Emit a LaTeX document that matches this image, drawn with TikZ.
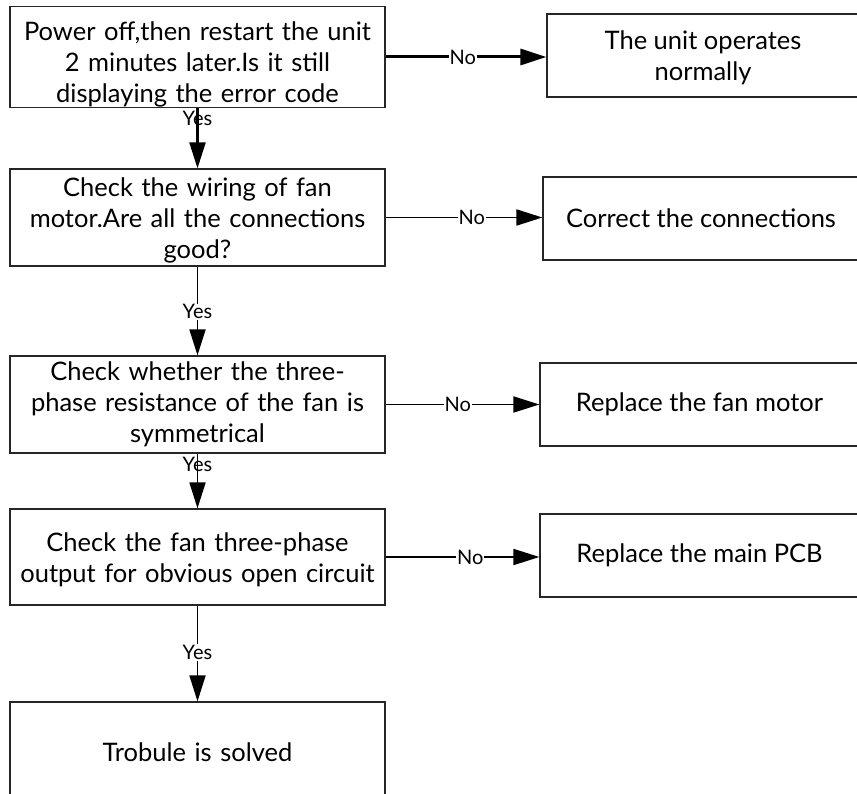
\documentclass[tikz,border=0pt]{standalone}
\usepackage{fontspec}
\setmainfont{Lato}
\usetikzlibrary{arrows.meta}
\begin{document}
\begin{tikzpicture}[x=1pt,y=-1pt,
  box/.style={draw=black!85,line width=1.2pt,rectangle,align=center,inner sep=0pt,
    font=\fontsize{25.5}{31}\selectfont},
  lbox/.style={box,minimum width=375pt,minimum height=97pt,text width=370pt},
  rbox/.style={box,minimum height=83pt},
  arr/.style={line width=1.8pt,-{Triangle[length=26pt,width=16pt]}},
  thickarr/.style={line width=3pt,-{Triangle[length=26pt,width=16pt]}},
  lab/.style={font=\fontsize{20}{22}\selectfont,inner sep=1pt},
  labw/.style={lab,fill=white}]
\useasboundingbox (0,0) rectangle (857,794);
\fill[white] (0,0) rectangle (857,794);
% left column
\node[lbox,minimum height=98pt] (b1) at (197.5,57) {\rule{0pt}{34pt}Power off,then restart the unit\\2 minutes later.Is it still\\displaying the error code};
\node[lbox] (b2) at (197.5,217.5) {\rule{0pt}{24pt}Check the wiring of fan\\motor.Are all the connections\\good?};
\node[lbox] (b3) at (197.5,404.5) {Check whether the three-\\phase resistance of the fan is\\symmetrical};
\node[lbox,minimum height=96pt] (b4) at (197.5,557) {\rule{0pt}{24pt}Check the fan three-phase\\output for obvious open circuit};
\node[lbox,minimum height=100pt] (b5) at (197.5,752) {Trobule is solved};
% right column
\node[rbox,minimum width=312pt] (r1) at (703,55.5) {\rule{0pt}{24pt}The unit operates\\normally};
\node[rbox,minimum width=316pt] (r2) at (701,218.5) {Correct the connections};
\node[rbox,minimum width=319pt] (r3) at (699.5,404.5) {Replace the fan motor};
\node[rbox,minimum width=319pt] (r4) at (699.5,555.5) {Replace the main PCB};
% yes connectors
\draw[arr,line width=2.2pt] (b1.south) -- (b2.north) node[lab,pos=0.17]{Yes};
\draw[arr] (b2.south) -- (b3.north) node[labw,pos=0.51]{Yes};
\draw[arr] (b3.south) -- (b4.north) node[lab,pos=0.2]{Yes};
\draw[arr] (b4.south) -- (b5.north) node[labw,pos=0.49]{Yes};
% no connectors
\draw[thickarr] (b1.east) -- (b1.east -| r1.west) node[labw,pos=0.48]{No};
\draw[arr] (b2.east) -- (b2.east -| r2.west) node[labw,pos=0.55]{No};
\draw[arr] (b3.east) -- (b3.east -| r3.west) node[labw,pos=0.47]{No};
\draw[arr] (b4.east) -- (b4.east -| r4.west) node[labw,pos=0.55]{No};
\end{tikzpicture}
\end{document}
